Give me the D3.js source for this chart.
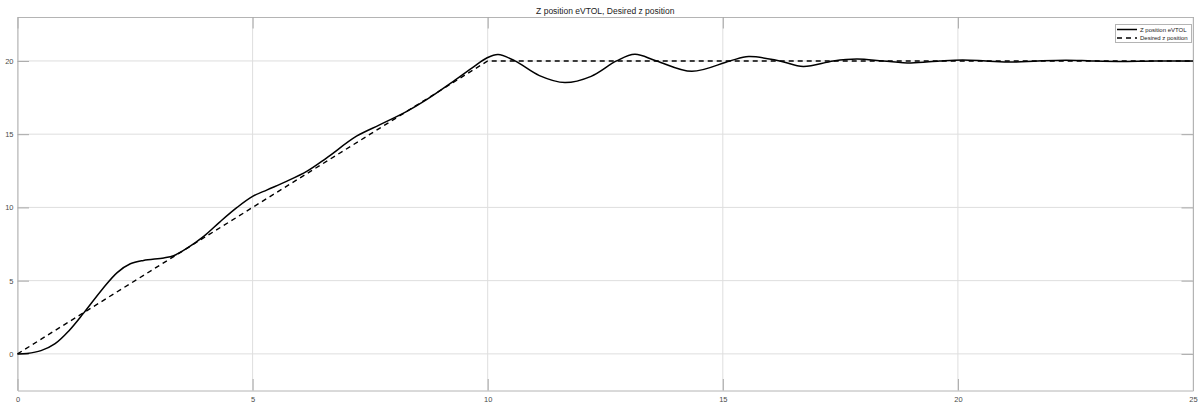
<!DOCTYPE html>
<html><head><meta charset="utf-8">
<script src="https://cdn.jsdelivr.net/npm/d3@7"></script>
<style>body{margin:0;background:#fff}svg{display:block;font-family:"Liberation Sans",Arial,sans-serif}</style>
</head><body><svg id="c" width="1198" height="405"></svg>
<script>
const title = "Z position eVTOL, Desired z position";
const seriesNames = ["Z position eVTOL", "Desired z position"];
const xTicks = [0, 5, 10, 15, 20, 25];
const yTicks = [0, 5, 10, 15, 20];
const actualT = [0,0.2,0.5,0.8,1.1,1.41,1.8,2.12,2.4,2.68,3.11,3.32,3.6,3.96,4.3,4.67,5.0,5.31,5.72,6.15,6.57,7.21,7.71,8.28,8.7,9.27,9.7,9.98,10.22,10.58,11.1,11.64,12.2,12.74,13.13,13.59,14.34,15.15,15.55,16.21,16.71,17.35,17.85,18.41,19.0,19.61,20.1,20.6,21.14,21.7,22.3,22.85,23.4,24.2,25];
const actualZ = [0,0.03,0.22,0.7,1.6,2.8,4.4,5.55,6.15,6.38,6.55,6.7,7.2,8.02,9.0,10.0,10.75,11.2,11.78,12.46,13.37,14.86,15.65,16.56,17.36,18.61,19.6,20.2,20.44,20.0,19.0,18.52,18.95,20.0,20.45,20.0,19.29,20.0,20.3,20.0,19.62,20.0,20.13,20.0,19.86,20.0,20.07,20.0,19.92,20.0,20.05,20.0,19.97,20.0,20.0];
const desiredT = [0, 10, 25];
const desiredZ = [0, 20, 20];

const svg = d3.select("#c");
const L = 17.5, R = 1193, T = 17, B = 390.5;
const x = d3.scaleLinear().domain([0, 25]).range([L, R]);
const y = d3.scaleLinear().domain([-2.5, 23]).range([B, T]);
const gridC = "#dedede", axC = "#b4b4b4", txtC = "#4a4a4a";

// grid
svg.append("g").selectAll("line").data(xTicks).join("line")
  .attr("x1", d => x(d)).attr("x2", d => x(d)).attr("y1", T).attr("y2", B)
  .attr("stroke", gridC).attr("stroke-width", 1);
svg.append("g").selectAll("line").data(yTicks).join("line")
  .attr("y1", d => y(d)).attr("y2", d => y(d)).attr("x1", L).attr("x2", R)
  .attr("stroke", gridC).attr("stroke-width", 1);

// axes with inward ticks on all sides
const tl = 11.5;
const axB = d3.axisBottom(x).tickValues(xTicks).tickSizeInner(-tl).tickSizeOuter(0).tickPadding(6);
const axT = d3.axisTop(x).tickValues(xTicks).tickSizeInner(-tl).tickSizeOuter(0).tickFormat("");
const axL = d3.axisLeft(y).tickValues(yTicks).tickSizeInner(-tl).tickSizeOuter(0).tickPadding(4);
const axR = d3.axisRight(y).tickValues(yTicks).tickSizeInner(-tl).tickSizeOuter(0).tickFormat("");
function style(g){
  g.select(".domain").attr("stroke", axC);
  g.selectAll(".tick line").attr("stroke", "#a8a8a8");
  g.selectAll(".tick text").attr("fill", txtC).attr("font-size", 7.5).attr("font-family", "Liberation Sans, Arial, sans-serif");
}
svg.append("g").attr("transform", `translate(0,${B})`).call(axB).call(style);
svg.append("g").attr("transform", `translate(0,${T})`).call(axT).call(style);
svg.append("g").attr("transform", `translate(${L},0)`).call(axL).call(style);
svg.append("g").attr("transform", `translate(${R},0)`).call(axR).call(style);

// lines
const actual = actualT.map((t, i) => [t, actualZ[i]]);
const desired = desiredT.map((t, i) => [t, desiredZ[i]]);
svg.append("path").datum(desired).attr("d", d3.line().x(d => x(d[0])).y(d => y(d[1])))
  .attr("fill", "none").attr("stroke", "#000").attr("stroke-width", 1.4).attr("stroke-dasharray", "5,4");
svg.append("path").datum(actual).attr("d", d3.line().x(d => x(d[0])).y(d => y(d[1])).curve(d3.curveCatmullRom.alpha(0.5)))
  .attr("fill", "none").attr("stroke", "#000").attr("stroke-width", 1.5);

// title
svg.append("text").attr("x", (L + R) / 2).attr("y", 14).attr("text-anchor", "middle")
  .attr("font-size", 8.5).attr("fill", "#222").text(title);

// legend
const lg = svg.append("g");
lg.append("rect").attr("x", 1115.5).attr("y", 24.5).attr("width", 76).attr("height", 18)
  .attr("fill", "#fff").attr("stroke", "#b4b4b4").attr("stroke-width", 1);
seriesNames.forEach((n, i) => {
  const yy = 29.5 + i * 8.5;
  lg.append("line").attr("x1", 1117).attr("x2", 1137).attr("y1", yy).attr("y2", yy)
    .attr("stroke", "#000").attr("stroke-width", 1.5).attr("stroke-dasharray", i ? "5,4" : null);
  lg.append("text").attr("x", 1140).attr("y", yy + 2.2).attr("font-size", 6).attr("fill", "#222").text(n);
});
</script></body></html>
